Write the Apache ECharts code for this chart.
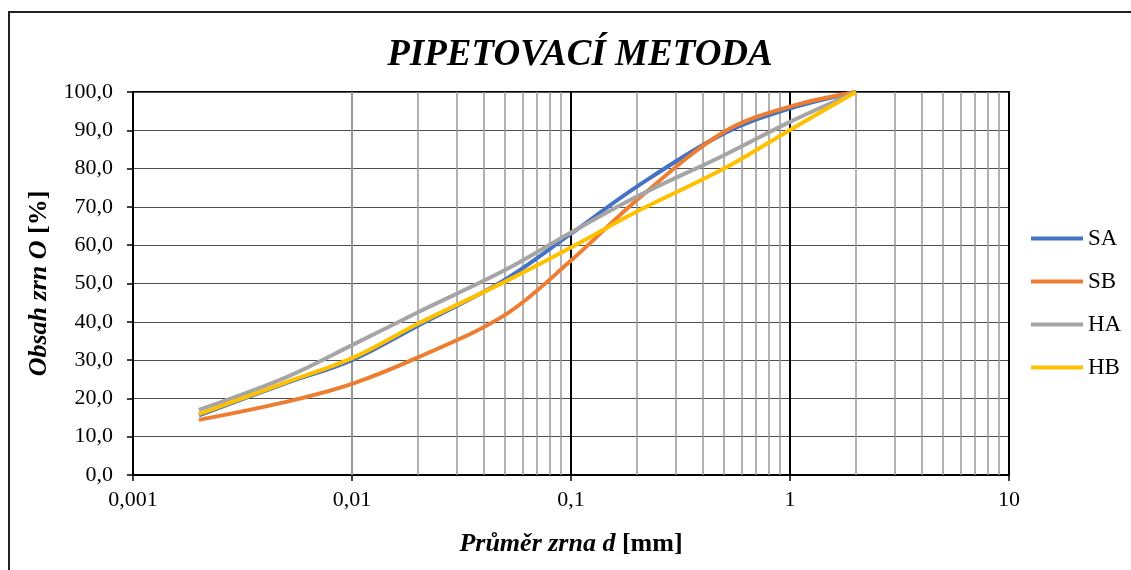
<!DOCTYPE html>
<html>
<head>
<meta charset="utf-8">
<script src="https://cdn.jsdelivr.net/npm/echarts@6/dist/echarts.min.js"></script>
<style>html,body{margin:0;padding:0;background:#fff}#c{width:1131px;height:570px}</style>
</head>
<body>
<div id="c"></div>
<script>
const grainSizes = [0.002, 0.005, 0.01, 0.02, 0.05, 0.1, 0.2, 0.5, 1, 2];
const SA = [15.6, 24.0, 30.0, 39.0, 51.0, 63.0, 75.3, 89.2, 95.7, 100];
const SB = [14.4, 19.1, 23.8, 30.7, 41.8, 56.0, 71.8, 89.6, 96.2, 100];
const HA = [17.0, 25.5, 33.9, 42.5, 53.5, 63.3, 72.7, 83.5, 92.2, 100];
const HB = [15.9, 24.2, 30.5, 39.5, 50.5, 59.4, 68.8, 80.0, 90.1, 100];
const seriesNames = ['SA', 'SB', 'HA', 'HB'];
const seriesColors = ['#4472C4', '#ED7D31', '#A5A5A5', '#FFC000'];
const minorGrid = [];
[0.001, 0.01, 0.1, 1].forEach(function (dec) {
  for (let k = 2; k <= 9; k++) minorGrid.push(Number((dec * k).toPrecision(6)));
});

const chart = echarts.init(document.getElementById('c'));
const font = '"Liberation Serif", "Times New Roman", serif';
const allData = [SA, SB, HA, HB];
const series = allData.map(function (vals, i) {
  return {
    name: seriesNames[i],
    type: 'line',
    data: grainSizes.map(function (d, j) { return [d, vals[j]]; }),
    smooth: 0.35,
    showSymbol: false,
    symbol: 'none',
    z: 5 + i,
    lineStyle: { color: seriesColors[i], width: 4 },
    itemStyle: { color: seriesColors[i] }
  };
});
series.unshift({
  name: 'minor',
  type: 'line',
  data: [],
  silent: true,
  z: 1,
  markLine: {
    silent: true,
    symbol: ['none', 'none'],
    label: { show: false },
    lineStyle: { color: '#999999', width: 1.5, type: 'solid' },
    data: minorGrid.map(function (v) { return { xAxis: v }; })
  }
});

chart.setOption({
  animation: false,
  backgroundColor: '#fff',
  title: {
    text: 'PIPETOVACÍ METODA',
    left: 575,
    textAlign: 'center',
    top: 32,
    textStyle: { fontFamily: font, fontStyle: 'italic', fontWeight: 'bold', fontSize: 37, color: '#000' }
  },
  legend: {
    data: seriesNames,
    orient: 'vertical',
    left: 1026,
    top: 222,
    itemGap: 20,
    itemWidth: 52,
    itemHeight: 4,
    icon: 'rect',
    textStyle: { fontFamily: font, fontSize: 23, color: '#000' }
  },
  grid: {
    left: 133, right: 122, top: 92, bottom: 95,
    show: true, borderColor: '#000', borderWidth: 2, backgroundColor: 'transparent'
  },
  xAxis: {
    type: 'log',
    logBase: 10,
    min: 0.001,
    max: 10,
    name: '{i|Průměr zrna }{i|d}{n| [mm]}',
    nameLocation: 'middle',
    nameGap: 56,
    nameTextStyle: {
      rich: {
        i: { fontFamily: font, fontStyle: 'italic', fontWeight: 'bold', fontSize: 26, color: '#000' },
        n: { fontFamily: font, fontWeight: 'bold', fontSize: 26, color: '#000' }
      }
    },
    axisLine: { show: true, lineStyle: { color: '#000', width: 2 } },
    axisTick: { show: true, length: 6, lineStyle: { color: '#000', width: 1.5 } },
    axisLabel: {
      margin: 14,
      fontFamily: font, fontSize: 22, color: '#000',
      formatter: function (v) { return String(Number(v.toPrecision(6))).replace('.', ','); }
    },
    splitLine: { show: true, lineStyle: { color: '#000', width: 2 } },
    minorTick: { show: false },
    minorSplitLine: { show: false }
  },
  yAxis: {
    type: 'value',
    min: 0,
    max: 100,
    interval: 10,
    name: '{i|Obsah zrn O}{n| [%]}',
    nameLocation: 'middle',
    nameGap: 81,
    nameRotate: 90,
    nameTextStyle: {
      rich: {
        i: { fontFamily: font, fontStyle: 'italic', fontWeight: 'bold', fontSize: 26, color: '#000' },
        n: { fontFamily: font, fontWeight: 'bold', fontSize: 26, color: '#000' }
      }
    },
    axisLine: { show: true, lineStyle: { color: '#000', width: 2 } },
    axisTick: { show: true, length: 6, lineStyle: { color: '#000', width: 1.5 } },
    axisLabel: {
      margin: 20,
      fontFamily: font, fontSize: 22, color: '#000',
      formatter: function (v) { return v.toFixed(1).replace('.', ','); }
    },
    splitLine: { show: true, lineStyle: { color: '#4d4d4d', width: 1.2 } }
  },
  graphic: [{
    type: 'rect',
    shape: { x: 9, y: 12, width: 1200, height: 620 },
    style: { fill: 'none', stroke: '#222', lineWidth: 2 },
    silent: true,
    z: 0
  }],
  series: series
});
</script>
</body>
</html>
